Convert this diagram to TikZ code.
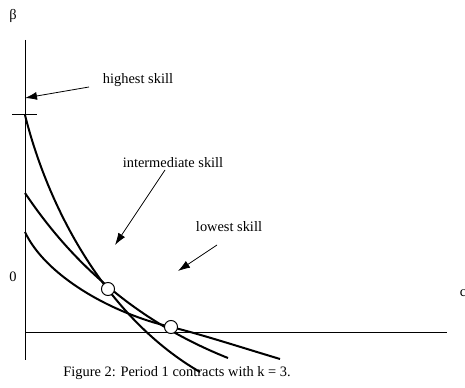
\documentclass[tikz,border=0pt]{standalone}
\usepackage{fontspec}
\setmainfont{Liberation Serif}
\usepackage{tikz}
\usetikzlibrary{arrows.meta}

\begin{document}
\begin{tikzpicture}[x=0.75pt, y=-0.75pt,
    curva/.style={black, line width=1.5pt},
    asse/.style={black, line width=0.75pt},
    freccia/.style={black, line width=0.6pt, -{Latex[length=9pt,width=6pt]}},
    etichetta/.style={font=\fontsize{10.8}{13}\selectfont, inner sep=0pt}]
  \useasboundingbox (0,0) rectangle (465,388);

  \coordinate (O)  at (25,333);
  \coordinate (Y)  at (25,40);
  \coordinate (Yb) at (25,360);
  \coordinate (X)  at (447,333);
  \coordinate (T1) at (12,115);
  \coordinate (T2) at (37,115);
  \coordinate (P1) at (108,289);
  \coordinate (P2) at (171,327);

  % Assi
  \draw[asse] (Y) -- (Yb);
  \draw[asse] (O) -- (X);
  \draw[asse] (T1) -- (T2);

  % Curve (alta, intermedia, bassa)
  \draw[curva] (25,115) .. controls (50,215) and (110,320) .. (200,372);
  \draw[curva] (25,193) .. controls (60,245) and (120,315) .. (228,358);
  \draw[curva] (25,232) .. controls (45,275) and (110,313) .. (P2)
               .. controls (200,334) and (240,347) .. (280,359);

  % Punti di incontro
  \filldraw[fill=white, draw=black, line width=0.75pt] (P1) circle[radius=4.9pt];
  \filldraw[fill=white, draw=black, line width=0.75pt] (P2) circle[radius=4.9pt];

  % Etichette assi
  \node[etichetta] (beta) at (13,16)  {β};
  \node[etichetta] (zero) at (13,277) {0};
  \node[etichetta] (cc)   at (463,293) {c};

  % Etichette curve
  \node[etichetta] (alta)  at (138,80)  {highest skill};
  \node[etichetta] (media) at (173,163) {intermediate skill};
  \node[etichetta] (bassa) at (229,227) {lowest skill};

  % Frecce
  \coordinate (A1) at (89,87);   \coordinate (A2) at (25,98);
  \coordinate (B1) at (165,170); \coordinate (B2) at (115,245);
  \coordinate (C1) at (217,245); \coordinate (C2) at (178,271);
  \draw[freccia] (A1) -- (A2);
  \draw[freccia] (B1) -- (B2);
  \draw[freccia] (C1) -- (C2);

  % Didascalia
  \node[etichetta] (didascalia) at (177,373)
        {Figure 2: Period 1 contracts with k = 3.};
\end{tikzpicture}
\end{document}
